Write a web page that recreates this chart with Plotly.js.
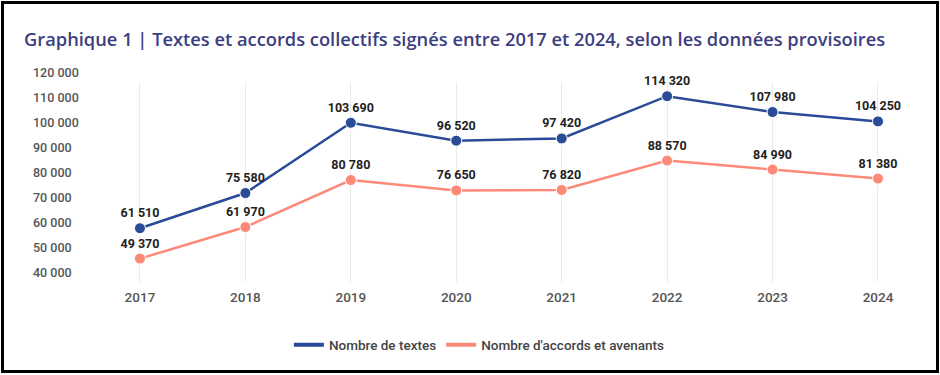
<!DOCTYPE html>
<html>
<head>
<meta charset="utf-8">
<script src="https://cdn.plot.ly/plotly-3.0.1.min.js"></script>
<style>
html,body{margin:0;padding:0;background:#fff;}
#wrap{position:relative;width:940px;height:375px;overflow:hidden;}
#chart{position:absolute;left:0;top:0;width:940px;height:375px;}
#frame{position:absolute;left:1px;top:1px;width:932px;height:366px;border:3px solid #000;pointer-events:none;}
</style>
</head>
<body>
<div id="wrap"><div id="chart"></div><div id="frame"></div></div>
<script>
const years = ['2017','2018','2019','2020','2021','2022','2023','2024'];
const textes = [61510, 75580, 103690, 96520, 97420, 114320, 107980, 104250];
const accords = [49370, 61970, 80780, 76650, 76820, 88570, 84990, 81380];
const seriesNames = ['Nombre de textes', "Nombre d'accords et avenants"];
const yTicks = [40000, 50000, 60000, 70000, 80000, 90000, 100000, 110000, 120000];
const colors = ['#2a4b97', '#fd8a78'];

const labelFont = {family: 'Roboto, sans-serif', size: 12.5, color: '#222', weight: 700};

function series(y, i) {
  return {
    x: years, y: y, type: 'scatter', mode: 'lines+markers+text',
    name: seriesNames[i], showlegend: false,
    line: {color: colors[i], width: 2.5},
    marker: {color: colors[i], size: 11, line: {color: '#fff', width: 1}},
    texttemplate: '%{y:,d}', textposition: 'top center',
    textfont: labelFont, cliponaxis: false, hoverinfo: 'skip'
  };
}
function legendEntry(i) {
  return {x: [null], y: [null], type: 'scatter', mode: 'lines', name: seriesNames[i],
    line: {color: colors[i], width: 4}, hoverinfo: 'skip'};
}
const data = [series(accords, 1), series(textes, 0), legendEntry(0), legendEntry(1)];

const layout = {
  width: 940, height: 375,
  margin: {l: 30, r: 15, t: 82, b: 93},
  paper_bgcolor: '#fff', plot_bgcolor: '#fff',
  separators: ', ',
  title: {
    text: 'Graphique 1 | Textes et accords collectifs signés entre 2017 et 2024, selon les données provisoires',
    font: {family: '"Open Sans", sans-serif', size: 18.3, color: '#3c3e80', weight: 600},
    xref: 'container', yref: 'container', x: 24/940, xanchor: 'left', y: 1 - 40/375, yanchor: 'middle'
  },
  xaxis: {
    type: 'category', range: [-1.043, 7.446],
    showgrid: true, gridcolor: '#ebebeb', gridwidth: 1,
    showline: false, zeroline: false, ticks: '', ticklabelstandoff: 5,
    tickfont: {family: 'Roboto, sans-serif', size: 13.5, color: '#555', weight: 500}
  },
  yaxis: {
    range: [40000, 120000], tickvals: yTicks, tickformat: ',d',
    showgrid: false, zeroline: false, showline: false, ticks: '',
    ticklabelposition: 'inside', ticklabeloverflow: 'allow', ticklabelshift: -9,
    tickfont: {family: 'Roboto, sans-serif', size: 12.5, color: '#555', weight: 500}
  },
  legend: {
    orientation: 'h', xref: 'container', yref: 'container',
    x: 0.51, xanchor: 'center', y: 1 - 345/375, yanchor: 'middle',
    font: {family: 'Roboto, sans-serif', size: 13.5, color: '#444', weight: 500},
    itemwidth: 30
  },
  showlegend: true
};

Plotly.newPlot('chart', data, layout, {displayModeBar: false, staticPlot: true});
</script>
</body>
</html>
